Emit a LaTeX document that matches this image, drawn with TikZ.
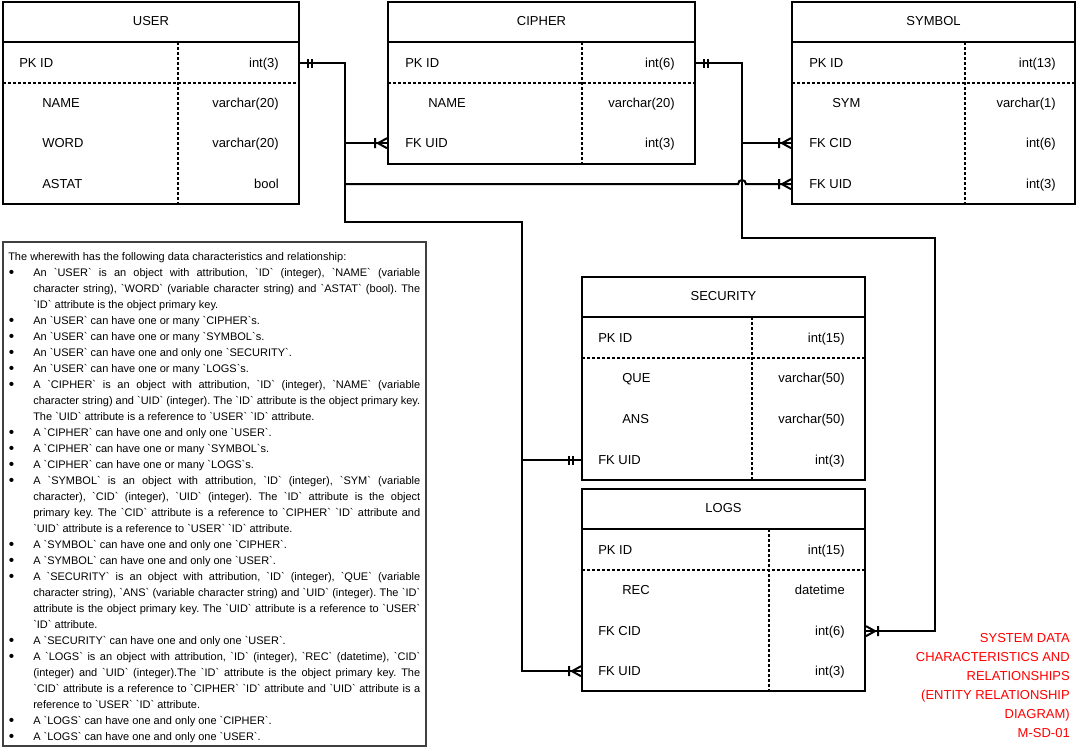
\documentclass[tikz,border=0pt]{standalone}
\usepackage{fontspec}
\newfontfamily\erfont{Liberation Sans}
\usetikzlibrary{fit,calc}

% compact bullet list for the notes panel
\newcommand\notebullet{\raisebox{-1.2pt}{\fontsize{11.5}{12}\selectfont\textbullet}}
\newenvironment{notelist}{%
  \list{\notebullet}{%
    \setlength\leftmargin{18.75pt}%
    \setlength\labelwidth{18.75pt}%
    \setlength\labelsep{0pt}%
    \setlength\itemindent{0pt}%
    \setlength\itemsep{0pt}%
    \setlength\parsep{0pt}%
    \setlength\topsep{0pt}%
    \setlength\partopsep{0pt}%
    \def\makelabel##1{\hspace{0.4pt}##1\hfil}}}%
  {\endlist}

% entity frame: name, left, top, right, bottom, column divider x, title
\newcommand\ertable[7]{%
  \node[entbox, fit={(#2,#3)(#4,#5)}] (#1) {};
  \node[ertitle] (#1-title) at ({(#2+#4)/2},#3+19) {#7};
  \draw[rule] (#2,#3+40) -- (#4,#3+40);
  \draw[dotrule] (#2,#3+81) -- (#4,#3+81);
  \draw[dotrule] (#6,#3+40) -- (#6,#5);
}
% attribute row: name, left x, right x, centre y, field, type
\newcommand\errow[6]{%
  \node[attr, anchor=base west] (#1) at (#2,#4+4.6) {#5};
  \node[attr, anchor=base east] (#1-type) at (#3,#4+4.6) {#6};
}

\tikzset{
  entbox/.style={draw, line width=1.5pt, inner sep=0pt},
  ertitle/.style={font=\erfont\fontsize{9.75}{11}\selectfont, inner sep=0pt},
  attr/.style={font=\erfont\fontsize{9.75}{11}\selectfont, inner sep=0pt},
  rule/.style={line width=1.5pt},
  dotrule/.style={line width=1.5pt, dash pattern=on 2.25pt off 1.5pt},
  link/.style={line width=1.5pt},
  pics/oneone/.style={code={
    \draw[line width=1.5pt] (-8,-4.5) -- (-8,4.5) (-12,-4.5) -- (-12,4.5);}},
  pics/onemany/.style={code={
    \draw[line width=1.5pt] (-12,-5) -- (-12,5) (0,-5) -- (-9,0) -- (0,5);}},
  notebox/.style={draw=black!75, line width=0.8pt, inner sep=0pt},
  notetext/.style={font=\erfont\fontsize{8.25}{12}\selectfont, text width=309pt,
    align=justify, inner sep=0pt},
  caption/.style={font=\erfont\fontsize{9.75}{14.25}\selectfont, text=red,
    align=right, inner sep=0pt}
}

\begin{document}
\begin{tikzpicture}[x=0.75pt,y=-0.75pt]
\useasboundingbox (0,0) rectangle (1082,753);
\fill[white] (0,0) rectangle (1082,753);

% ---- entities ----
\ertable{user}{3}{2}{299}{204}{178}{USER}
\errow{user-id}{19}{279}{63}{PK ID}{int(3)}
\errow{user-name}{42}{279}{103}{NAME}{varchar(20)}
\errow{user-word}{42}{279}{143}{WORD}{varchar(20)}
\errow{user-astat}{42}{279}{184}{ASTAT}{bool}

\ertable{cipher}{388}{2}{695}{164}{582}{CIPHER}
\errow{cipher-id}{405}{675}{63}{PK ID}{int(6)}
\errow{cipher-name}{428}{675}{103}{NAME}{varchar(20)}
\errow{cipher-uid}{405}{675}{143}{FK UID}{int(3)}

\ertable{symbol}{792}{2}{1075}{204}{965}{SYMBOL}
\errow{symbol-id}{809}{1056}{63}{PK ID}{int(13)}
\errow{symbol-sym}{832}{1056}{103}{SYM}{varchar(1)}
\errow{symbol-cid}{809}{1056}{143}{FK CID}{int(6)}
\errow{symbol-uid}{809}{1056}{184}{FK UID}{int(3)}

\ertable{security}{582}{277}{865}{480}{752}{SECURITY}
\errow{security-id}{598}{845}{338}{PK ID}{int(15)}
\errow{security-que}{622}{845}{378}{QUE}{varchar(50)}
\errow{security-ans}{622}{845}{419}{ANS}{varchar(50)}
\errow{security-uid}{598}{845}{460}{FK UID}{int(3)}

\ertable{logs}{582}{489}{865}{691}{769}{LOGS}
\errow{logs-id}{598}{845}{550}{PK ID}{int(15)}
\errow{logs-rec}{622}{845}{590}{REC}{datetime}
\errow{logs-cid}{598}{845}{631}{FK CID}{int(6)}
\errow{logs-uid}{598}{845}{671}{FK UID}{int(3)}

% ---- routing guides ----
\coordinate (ubus) at (345,0);
\coordinate (lbus) at (522,0);
\coordinate (cbus) at (742,0);
\coordinate (rbus) at (935,0);
\coordinate (ustep) at (0,222);
\coordinate (cstep) at (0,238);

% ---- relationships from USER ----
\draw[link] (user.east |- user-id) -| (ubus |- ustep) -| (lbus |- logs-uid)
  -- (logs.west |- logs-uid);
\draw[link] (ubus |- cipher-uid) -- (cipher.west |- cipher-uid);
\draw[link] (ubus |- symbol-uid) -- ($(cbus |- symbol-uid)+(-4,0)$)
  .. controls +(0,-5.5) and +(0,-5.5) .. ($(cbus |- symbol-uid)+(4,0)$)
  -- (symbol.west |- symbol-uid);
\draw[link] (lbus |- security-uid) -- (security.west |- security-uid);

% ---- relationships from CIPHER ----
\draw[link] (cipher.east |- cipher-id) -| (cbus |- cstep) -| (rbus |- logs-cid)
  -- (logs.east |- logs-cid);
\draw[link] (cbus |- symbol-cid) -- (symbol.west |- symbol-cid);

% ---- cardinality marks ----
\pic[rotate=180] at (user.east |- user-id) {oneone};
\pic[rotate=180] at (cipher.east |- cipher-id) {oneone};
\pic at (cipher.west |- cipher-uid) {onemany};
\pic at (symbol.west |- symbol-cid) {onemany};
\pic at (symbol.west |- symbol-uid) {onemany};
\pic at (security.west |- security-uid) {oneone};
\pic at (logs.west |- logs-uid) {onemany};
\pic[rotate=180] at (logs.east |- logs-cid) {onemany};

% ---- notes panel ----
\node[notebox, fit={(3,242)(426,746)}] (notes) {};
\node[notetext, anchor=north west] (notes-text) at (8,252) {%
\parindent=0pt\frenchspacing
The wherewith has the following data characteristics and relationship:
\begin{notelist}
\item An `USER` is an object with attribution, `ID` (integer), `NAME` (variable\linebreak
character string), `WORD` (variable character string) and `ASTAT` (bool). The\linebreak
`ID` attribute is the object primary key.
\item An `USER` can have one or many `CIPHER`s.
\item An `USER` can have one or many `SYMBOL`s.
\item An `USER` can have one and only one `SECURITY`.
\item An `USER` can have one or many `LOGS`s.
\item A `CIPHER` is an object with attribution, `ID` (integer), `NAME` (variable\linebreak
character string) and `UID` (integer). The `ID` attribute is the object primary key.\linebreak
The `UID` attribute is a reference to `USER` `ID` attribute.
\item A `CIPHER` can have one and only one `USER`.
\item A `CIPHER` can have one or many `SYMBOL`s.
\item A `CIPHER` can have one or many `LOGS`s.
\item A `SYMBOL` is an object with attribution, `ID` (integer), `SYM` (variable\linebreak
character), `CID` (integer), `UID` (integer). The `ID` attribute is the object\linebreak
primary key. The `CID` attribute is a reference to `CIPHER` `ID` attribute and\linebreak
`UID` attribute is a reference to `USER` `ID` attribute.
\item A `SYMBOL` can have one and only one `CIPHER`.
\item A `SYMBOL` can have one and only one `USER`.
\item A `SECURITY` is an object with attribution, `ID` (integer), `QUE` (variable\linebreak
character string), `ANS` (variable character string) and `UID` (integer). The `ID`\linebreak
attribute is the object primary key. The `UID` attribute is a reference to `USER`\linebreak
`ID` attribute.
\item A `SECURITY` can have one and only one `USER`.
\item A `LOGS` is an object with attribution, `ID` (integer), `REC` (datetime), `CID`\linebreak
(integer) and `UID` (integer).The `ID` attribute is the object primary key. The\linebreak
`CID` attribute is a reference to `CIPHER` `ID` attribute and `UID` attribute is a\linebreak
reference to `USER` `ID` attribute.
\item A `LOGS` can have one and only one `CIPHER`.
\item A `LOGS` can have one and only one `USER`.
\end{notelist}};

% ---- diagram caption ----
\node[caption, anchor=north east] (caption) at (1070,633) {SYSTEM DATA\\
CHARACTERISTICS AND\\ RELATIONSHIPS\\ (ENTITY RELATIONSHIP\\ DIAGRAM)\\ M-SD-01};
\end{tikzpicture}
\end{document}
